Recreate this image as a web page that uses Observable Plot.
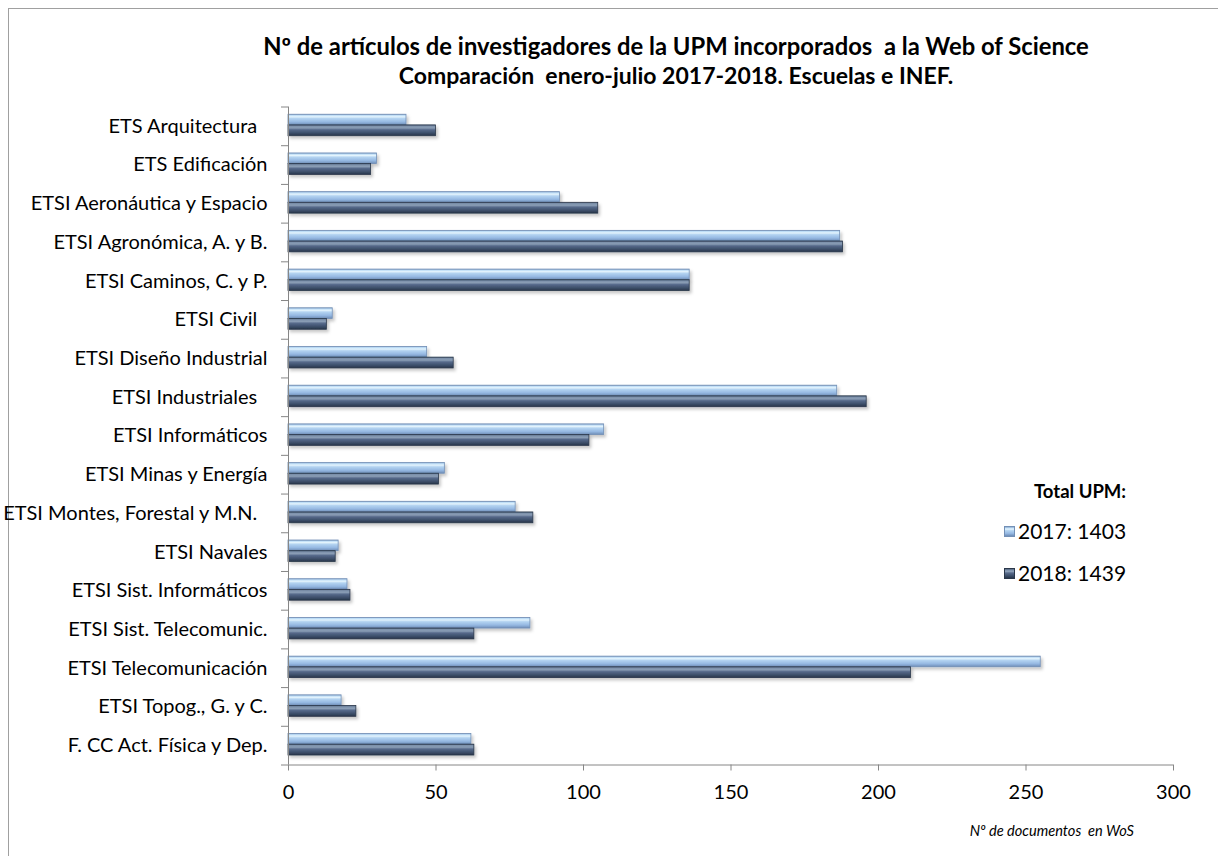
<!DOCTYPE html>
<html>
<head>
<meta charset="utf-8">
<script src="https://cdn.jsdelivr.net/npm/d3@7"></script>
<script src="https://cdn.jsdelivr.net/npm/@observablehq/plot@0.6"></script>
<style>
html, body { margin: 0; padding: 0; background: #fff; }
body { width: 1218px; height: 856px; position: relative; overflow: hidden; font-family: Lato, "Open Sans", sans-serif; color: #000; }
#frame { position: absolute; left: 8px; top: 8px; width: 1240px; height: 880px; border: 1px solid #a0a0a0; box-sizing: border-box; }
#chart { position: absolute; left: 0; top: 0; }
#chart svg text { white-space: pre; }
#chart svg g[aria-label="rect"] { filter: url(#barshadow); }
.title { position: absolute; left: 0; width: 1352px; text-align: center; font-weight: bold; font-size: 23px; line-height: 30px; white-space: nowrap; }
.legend { position: absolute; font-size: 21px; }
.legend .hdr { position: absolute; left: 1034px; top: 480px; font-weight: bold; font-size: 18.5px; line-height: 22px; white-space: nowrap; }
.legend .row { position: absolute; left: 1004px; white-space: nowrap; display: flex; align-items: center; line-height: 22px; }
.legend .sw { width: 11px; height: 11px; margin-right: 3px; box-sizing: border-box; }
.xlabel { position: absolute; right: 84px; top: 822px; font-style: italic; font-size: 14.6px; white-space: nowrap; }
</style>
</head>
<body>
<div id="frame"></div>
<div id="chart"></div>
<div class="title" style="top:31px; font-size:23.8px">Nº de artículos de investigadores de la UPM incorporados&nbsp; a la Web of Science</div>
<div class="title" style="top:60px">Comparación&nbsp; enero-julio 2017-2018. Escuelas e INEF.</div>
<div class="legend" id="legend"></div>
<div class="xlabel">Nº de documentos&nbsp; en WoS</div>
<script>
const categories = [
  "ETS Arquitectura  ",
  "ETS Edificación",
  "ETSI Aeronáutica y Espacio",
  "ETSI Agronómica, A. y B.",
  "ETSI Caminos, C. y P.",
  "ETSI Civil  ",
  "ETSI Diseño Industrial",
  "ETSI Industriales  ",
  "ETSI Informáticos",
  "ETSI Minas y Energía",
  "ETSI Montes, Forestal y M.N.  ",
  "ETSI Navales",
  "ETSI Sist. Informáticos",
  "ETSI Sist. Telecomunic.",
  "ETSI Telecomunicación",
  "ETSI Topog., G. y C.",
  "F. CC Act. Física y Dep."
];
const values2017 = [40, 30, 92, 187, 136, 15, 47, 186, 107, 53, 77, 17, 20, 82, 255, 18, 62];
const values2018 = [50, 28, 105, 188, 136, 13, 56, 196, 102, 51, 83, 16, 21, 63, 211, 23, 63];
const xTicks = [0, 50, 100, 150, 200, 250, 300];
const legendItems = [
  {label: "2017: 1403", key: "g17"},
  {label: "2018: 1439", key: "g18"}
];
const legendTitle = "Total UPM:";

const rows17 = categories.map((c, i) => ({category: c, i, value: values2017[i]}));
const rows18 = categories.map((c, i) => ({category: c, i, value: values2018[i]}));

const gradients = {
  g17: [[0, "#7f9cc2"], [0.1, "#bcdcf6"], [0.24, "#e4f4fd"], [0.4, "#b3d3f1"], [0.72, "#95b8e2"], [1, "#6e8db6"]],
  g18: [[0, "#4a5d78"], [0.12, "#7d91ab"], [0.28, "#8a9db5"], [0.45, "#56698a"], [0.75, "#3d4f6a"], [1, "#28354a"]]
};

function defs() {
  const d = d3.create("svg:defs");
  for (const [id, stops] of Object.entries(gradients)) {
    const g = d.append("linearGradient").attr("id", id).attr("x1", 0).attr("y1", 0).attr("x2", 0).attr("y2", 1);
    for (const [o, c] of stops) g.append("stop").attr("offset", o).attr("stop-color", c);
  }
  const f = d.append("filter").attr("id", "barshadow").attr("x", "-5%").attr("y", "-50%").attr("width", "115%").attr("height", "250%");
  f.append("feDropShadow").attr("dx", 2).attr("dy", 2.5).attr("stdDeviation", 1.6).attr("flood-color", "#000").attr("flood-opacity", 0.22);
  return d.node();
}

const chart = Plot.plot({
  width: 1218,
  height: 856,
  marginLeft: 288,
  marginRight: 45,
  marginTop: 106.5,
  marginBottom: 91.5,
  style: {fontFamily: "Lato, 'Open Sans', sans-serif", color: "#000", background: "transparent", overflow: "visible"},
  x: {type: "linear", domain: [0, 300]},
  y: {type: "linear", domain: [0, categories.length], reverse: true},
  marks: [
    defs,
    Plot.rectX(rows17, {x: "value", y1: d => d.i + 0.2, y2: d => d.i + 0.475, fill: "url(#g17)", stroke: "#7390b6", strokeWidth: 0.8}),
    Plot.rectX(rows18, {x: "value", y1: d => d.i + 0.475, y2: d => d.i + 0.755, fill: "url(#g18)", stroke: "#2a374a", strokeWidth: 0.8}),
    Plot.ruleX([0], {stroke: "#868686", strokeWidth: 1}),
    Plot.ruleY([categories.length], {stroke: "#868686", strokeWidth: 1}),
    Plot.axisY({ticks: d3.range(categories.length + 1), tickSize: 7, tickFormat: () => "", stroke: "#868686", label: null}),
    Plot.axisY({ticks: categories.map((c, i) => i + 0.5), tickSize: 0, tickPadding: 21, tickFormat: d => categories[Math.floor(d)], fontSize: 20, fill: "#000", label: null}),
    Plot.axisX({ticks: xTicks, tickSize: 6, tickPadding: 14, fontSize: 20, stroke: "#868686", fill: "#000", label: null})
  ]
});
document.getElementById("chart").appendChild(chart);

const legend = document.getElementById("legend");
const hdr = document.createElement("div");
hdr.className = "hdr";
hdr.textContent = legendTitle;
legend.appendChild(hdr);
legendItems.forEach((it, k) => {
  const row = document.createElement("div");
  row.className = "row";
  row.style.top = (520 + k * 42) + "px";
  const sw = document.createElement("div");
  sw.className = "sw";
  const stops = gradients[it.key].map(([o, c]) => `${c} ${o * 100}%`).join(", ");
  sw.style.background = `linear-gradient(to bottom, ${stops})`;
  sw.style.border = "1px solid " + (it.key === "g17" ? "#7390b6" : "#2a374a");
  row.appendChild(sw);
  const t = document.createElement("span");
  t.textContent = it.label;
  row.appendChild(t);
  legend.appendChild(row);
});
</script>
</body>
</html>
